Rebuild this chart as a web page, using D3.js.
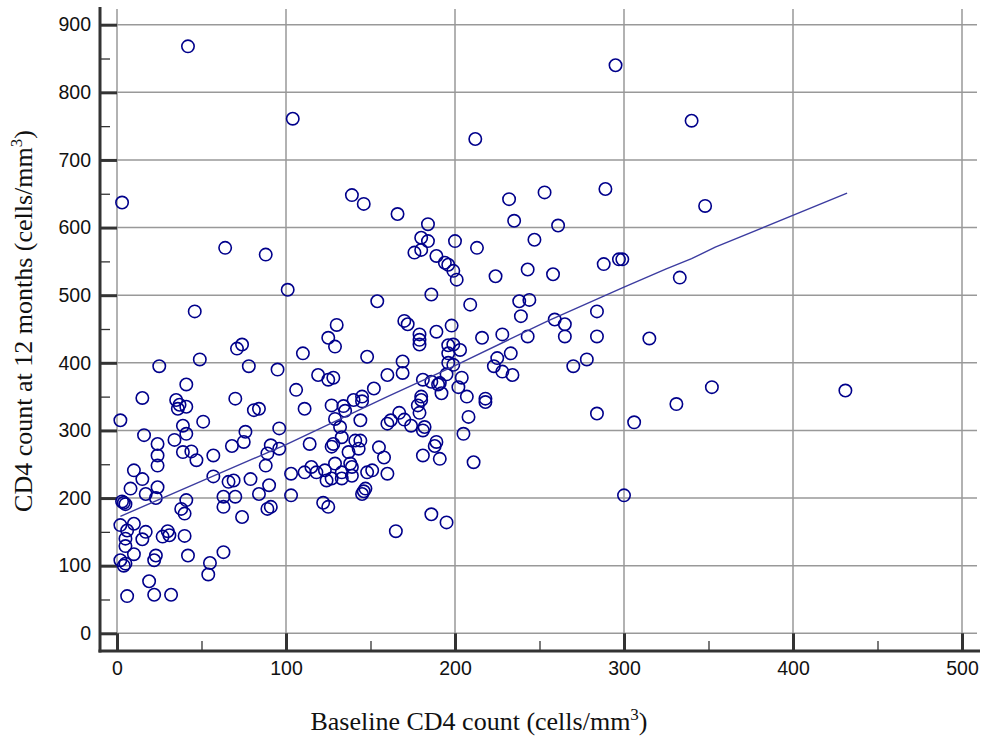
<!DOCTYPE html>
<html>
<head>
<meta charset="utf-8">
<script src="https://cdn.jsdelivr.net/npm/d3@7"></script>
<style>
  body { margin: 0; background: #fff; }
  svg { display: block; }
</style>
</head>
<body>
<svg id="chart" width="985" height="744"></svg>
<script>
// baseline CD4 (cells/mm3) and CD4 at 12 months, one entry per patient
const baselineCD4 = [
  42, 104, 3, 139, 146, 64, 88, 101, 46, 154,
  295, 212, 232, 253, 289, 166, 184, 235, 261, 180, 184, 180, 176, 200, 213, 247, 189, 194, 196, 199, 201, 224, 243, 258, 288, 297, 299, 186, 209, 238, 244, 239, 284, 259, 265, 170, 172, 198,
  340, 348, 333, 331, 352, 431,
  189, 179, 179, 179, 216, 228, 243, 265, 284, 315, 196, 199, 196, 203, 233, 225, 278, 270, 169, 169, 196, 199, 223, 228, 234, 195, 181, 186, 190, 191, 204, 202, 192, 207, 218, 218, 180, 180, 178, 179, 167, 170, 174, 182, 181, 208, 205, 284, 306, 189, 188, 181, 191, 211, 186, 195, 300,
  130, 125, 129, 110, 148, 71, 74, 49, 25, 78, 95, 119, 125, 128, 160, 106, 152, 41, 15, 35, 37, 36, 41, 70, 81, 84, 111, 127, 134, 135, 140, 145, 145,
  2, 51, 39, 41, 96, 129, 132, 144, 160, 162, 16, 34, 24, 39, 44, 47, 76, 75, 68, 57, 24, 24, 91, 89, 88, 96, 114, 128, 127, 133, 141, 144, 143, 137, 155, 158,
  10, 15, 8, 17, 23, 24, 3, 4, 5, 57, 66, 69, 79, 84, 90, 103, 103, 111, 115, 118, 123, 124, 127, 129, 133, 133, 138, 139, 139, 148, 151, 160, 145, 146, 147,
  63, 63, 70, 74, 41, 38, 40, 89, 91, 122, 125, 2, 10, 6, 5, 5, 17, 15, 27, 30, 31, 40,
  2, 4, 5, 10, 22, 23, 42, 55, 54, 63, 19, 6, 22, 32, 165
];
const month12CD4 = [
  868, 761, 637, 648, 635, 570, 560, 508, 476, 491,
  840, 731, 642, 652, 657, 620, 605, 610, 603, 585, 580, 567, 563, 580, 570, 582, 558, 548, 545, 536, 523, 528, 538, 531, 546, 553, 553, 501, 486, 491, 493, 469, 476, 464, 457, 462, 457, 455,
  758, 632, 526, 339, 364, 359,
  446, 442, 434, 427, 437, 442, 439, 439, 439, 436, 426, 427, 414, 419, 414, 407, 405, 395, 402, 385, 400, 397, 395, 387, 382, 383, 375, 372, 368, 370, 378, 364, 355, 350, 347, 342, 350, 345, 337, 326, 326, 316, 307, 305, 300, 320, 295, 325, 312, 283, 277, 263, 258, 253, 176, 164, 204,
  456, 437, 424, 414, 409, 421, 427, 405, 395, 395, 390, 382, 375, 378, 382, 360, 362, 368, 348, 345, 338, 332, 335, 347, 330, 332, 332, 337, 336, 329, 345, 350, 343,
  315, 313, 307, 295, 303, 317, 305, 315, 310, 315, 293, 286, 280, 268, 269, 256, 298, 283, 277, 263, 263, 248, 278, 266, 248, 273, 280, 280, 276, 290, 285, 285, 273, 268, 275, 260,
  241, 228, 214, 206, 200, 216, 195, 193, 191, 232, 224, 226, 228, 206, 219, 236, 204, 238, 246, 238, 241, 226, 229, 251, 229, 238, 251, 246, 233, 238, 241, 236, 206, 210, 214,
  202, 187, 202, 172, 197, 184, 177, 184, 187, 193, 187, 160, 162, 152, 140, 129, 150, 139, 143, 151, 145, 144,
  108, 100, 103, 117, 108, 115, 115, 104, 87, 120, 77, 55, 57, 57, 151
];

// fitted curve drawn through the cloud
const fitX = [2, 50, 100, 160, 200, 255, 300, 325, 340, 354, 432];
const fitY = [173, 225, 279, 350, 396, 462, 512, 539, 554, 571, 651];

const xTicks = [0, 100, 200, 300, 400, 500];
const xMinor = [50, 150, 250, 350, 450];
const yTicks = [0, 100, 200, 300, 400, 500, 600, 700, 800, 900];
const yMinor = [50, 150, 250, 350, 450, 550, 650, 750, 850];

const svg = d3.select('#chart');

const x = d3.scaleLinear().domain([0, 500]).range([117, 962]);
const y = d3.scaleLinear().domain([0, 900]).range([633.3, 24.7]);

const gridColor = '#999';
const axisColor = '#333';
const tickFont = '"Liberation Sans", Arial, sans-serif';

// grid
const grid = svg.append('g').attr('class', 'grid')
  .style('stroke', gridColor).style('stroke-width', '1.5px');
grid.selectAll('line.h').data(yTicks).enter().append('line')
  .attr('class', 'h')
  .attr('x1', x(0)).attr('x2', 977)
  .attr('y1', d => y(d)).attr('y2', d => y(d));
grid.selectAll('line.v').data(xTicks).enter().append('line')
  .attr('class', 'v')
  .attr('x1', d => x(d)).attr('x2', d => x(d))
  .attr('y1', 9).attr('y2', y(0));

// axes
const styleAxis = (g, width) => {
  g.select('.domain').remove();
  g.selectAll('.tick line').style('stroke', axisColor).style('stroke-width', `${width}px`);
  g.selectAll('.tick text')
    .style('font-family', tickFont)
    .style('font-size', '19.5px')
    .style('fill', '#111');
};

svg.append('g')
  .attr('transform', `translate(${x(0)},0)`)
  .call(d3.axisLeft(y).tickValues(yTicks).tickSize(17).tickPadding(9).tickFormat(d3.format('d')))
  .call(styleAxis, 3);

svg.append('g')
  .attr('transform', 'translate(110,0)')
  .call(d3.axisLeft(y).tickValues(yMinor).tickSize(10).tickFormat(''))
  .call(styleAxis, 1.3);

svg.append('g')
  .attr('transform', `translate(0,${y(0)})`)
  .call(d3.axisBottom(x).tickValues(xTicks).tickSize(18).tickPadding(10).tickFormat(d3.format('d')))
  .call(styleAxis, 3);

svg.append('g')
  .attr('transform', 'translate(0,641)')
  .call(d3.axisBottom(x).tickValues(xMinor).tickSize(10).tickFormat(''))
  .call(styleAxis, 1.3);

// axis lines
svg.append('line')
  .attr('x1', 100).attr('x2', 100).attr('y1', 7).attr('y2', 652.5)
  .style('stroke', axisColor).style('stroke-width', '3px');
svg.append('line')
  .attr('x1', 98.5).attr('x2', 980).attr('y1', 651).attr('y2', 651)
  .style('stroke', axisColor).style('stroke-width', '3px');

// points
const points = baselineCD4.map((b, i) => ({ b, m: month12CD4[i] }));
svg.append('g').attr('class', 'points')
  .selectAll('circle').data(points).enter().append('circle')
  .attr('cx', d => x(d.b))
  .attr('cy', d => y(d.m))
  .attr('r', 6.2)
  .style('fill', 'none')
  .style('stroke', '#00008b')
  .style('stroke-width', '1.6px');

// fitted line
const fit = fitX.map((v, i) => [v, fitY[i]]);
svg.append('path')
  .datum(fit)
  .attr('d', d3.line().x(d => x(d[0])).y(d => y(d[1])))
  .style('fill', 'none')
  .style('stroke', '#3c3ca0')
  .style('stroke-width', '1.4px');

// titles
const serif = '"Liberation Serif", "Times New Roman", serif';
const xTitle = svg.append('text')
  .attr('x', 479).attr('y', 730)
  .attr('text-anchor', 'middle')
  .style('font-family', serif).style('font-size', '26px').style('fill', '#111');
xTitle.append('tspan').text('Baseline CD4 count (cells/mm');
xTitle.append('tspan').attr('dy', -10).style('font-size', '17px').text('3');
xTitle.append('tspan').attr('dy', 10).text(')');

const yTitle = svg.append('text')
  .attr('transform', 'translate(32,321) rotate(-90)')
  .attr('text-anchor', 'middle')
  .style('font-family', serif).style('font-size', '26px').style('fill', '#111');
yTitle.append('tspan').text('CD4 count at 12 months (cells/mm');
yTitle.append('tspan').attr('dy', -10).style('font-size', '17px').text('3');
yTitle.append('tspan').attr('dy', 10).text(')');
</script>
</body>
</html>
